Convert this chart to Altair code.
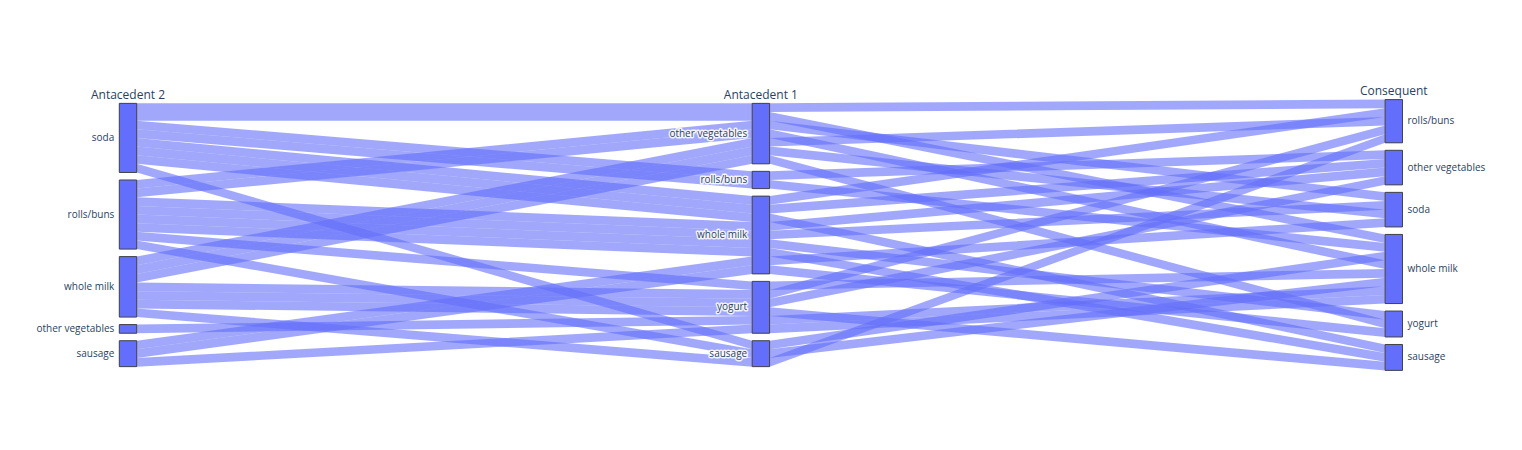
import altair as alt
import pandas as pd

# ---------------- data ----------------
dim_titles = ["Antacedent 2", "Antacedent 1", "Consequent"]

ant2_categories = ["soda", "rolls/buns", "whole milk", "other vegetables", "sausage"]
ant1_categories = ["other vegetables", "rolls/buns", "whole milk", "yogurt", "sausage"]
consequent_categories = ["rolls/buns", "other vegetables", "soda", "whole milk", "yogurt", "sausage"]

antecedent_2 = [
    "soda", "soda", "rolls/buns",
    "soda", "soda", "rolls/buns",
    "soda", "soda", "whole milk",
    "soda", "soda", "sausage",
    "rolls/buns", "rolls/buns", "whole milk",
    "rolls/buns", "rolls/buns", "whole milk",
    "rolls/buns", "rolls/buns", "whole milk",
    "whole milk", "other vegetables", "whole milk",
    "sausage", "sausage", "whole milk",
]
antecedent_1 = [
    "rolls/buns", "other vegetables", "other vegetables",
    "whole milk", "rolls/buns", "whole milk",
    "whole milk", "other vegetables", "other vegetables",
    "whole milk", "sausage", "whole milk",
    "whole milk", "other vegetables", "other vegetables",
    "whole milk", "sausage", "sausage",
    "whole milk", "yogurt", "yogurt",
    "other vegetables", "yogurt", "yogurt",
    "whole milk", "yogurt", "yogurt",
]
consequent = [
    "other vegetables", "rolls/buns", "soda",
    "rolls/buns", "whole milk", "soda",
    "other vegetables", "whole milk", "soda",
    "sausage", "whole milk", "soda",
    "other vegetables", "whole milk", "rolls/buns",
    "sausage", "whole milk", "rolls/buns",
    "yogurt", "whole milk", "rolls/buns",
    "yogurt", "whole milk", "other vegetables",
    "yogurt", "whole milk", "sausage",
]

# ---------------- layout parameters (styling) ----------------
SLOT_PX = 8.64        # pixel height of one rule
GAP_PX = 7.5          # gap between categories
DIM_STEP_PX = 632.9   # horizontal distance between dimensions
BAR_PX = 17.4         # width of category bars
FIRST_DIM_PX = 120    # x of first dimension centre inside plot area
CENTER_Y_PX = 227     # vertical centre of the diagram inside plot area
W, H = 1500, 430

BAND = "#636efa"
TEXT = "#2a3f5f"
FONT = "Open Sans"

gap = GAP_PX / SLOT_PX
hw = BAR_PX / 2 / DIM_STEP_PX

dims = [ant2_categories, ant1_categories, consequent_categories]
cols = [antecedent_2, antecedent_1, consequent]
n = len(consequent)

# category rectangles
cat_rows, cat_tops, title_rows = [], [], []
for d, cats in enumerate(dims):
    counts = [cols[d].count(c) for c in cats]
    total = n + gap * (len(cats) - 1)
    y = -total / 2
    title_rows.append(dict(dim=d, title=dim_titles[d], x=d, y=y - 4.8 / SLOT_PX))
    tops = []
    for c, k in zip(cats, counts):
        tops.append(y)
        cat_rows.append(dict(dim=d, cat=c, x=d - hw, x2=d + hw, y=y, y2=y + k, ymid=y + k / 2))
        y += k + gap
    cat_tops.append(tops)

# paths, ordered like plotly parcats (lexicographic by category index per dimension)
idx = [[dims[d].index(cols[d][i]) for d in range(3)] for i in range(n)]
order = sorted(range(n), key=lambda i: (idx[i], i))
nxt = [list(t) for t in cat_tops]
path_rows = []
for p, i in enumerate(order):
    for d in range(3):
        c = idx[i][d]
        y0 = nxt[d][c]
        nxt[d][c] += 1
        for xx in (d - hw, d + hw):
            path_rows.append(dict(path=p, x=xx, y=y0, y2=y0 + 1))

cats_df = pd.DataFrame(cat_rows)
paths_df = pd.DataFrame(path_rows)
titles_df = pd.DataFrame(title_rows)
left_df = cats_df[cats_df.dim < 2]
right_df = cats_df[cats_df.dim == 2]

x0 = -FIRST_DIM_PX / DIM_STEP_PX
xs = alt.Scale(domain=[x0, x0 + W / DIM_STEP_PX], nice=False, zero=False)
y0 = -CENTER_Y_PX / SLOT_PX
ys = alt.Scale(domain=[y0, y0 + H / SLOT_PX], nice=False, zero=False, reverse=True)

X = lambda f: alt.X(f, type="quantitative", scale=xs, axis=None)
Y = lambda f: alt.Y(f, type="quantitative", scale=ys, axis=None)

bands = alt.Chart(paths_df).mark_area(color=BAND, opacity=0.6, interpolate="linear").encode(
    x=X("x"), y=Y("y"), y2="y2", detail="path:N"
)
bars = alt.Chart(cats_df).mark_rect(fill=BAND, stroke="#444444", strokeWidth=1).encode(
    x=X("x"), x2="x2", y=Y("y"), y2="y2"
)

def labels(df, xfield, align, dx):
    halo = alt.Chart(df).mark_text(
        align=align, baseline="middle", dx=dx, font=FONT, fontSize=10,
        stroke="white", strokeWidth=3, strokeOpacity=0.85, fill="white", strokeJoin="round"
    ).encode(x=X(xfield), y=Y("ymid"), text="cat:N")
    txt = alt.Chart(df).mark_text(
        align=align, baseline="middle", dx=dx, font=FONT, fontSize=10, color=TEXT
    ).encode(x=X(xfield), y=Y("ymid"), text="cat:N")
    return halo + txt

titles = alt.Chart(titles_df).mark_text(
    align="center", baseline="alphabetic", font=FONT, fontSize=12, color=TEXT
).encode(x=X("x"), y=Y("y"), text="title:N")

chart = alt.layer(
    bands, bars, labels(left_df, "x", "right", -5), labels(right_df, "x2", "left", 5), titles
).properties(width=W, height=H, padding=0).configure_view(stroke=None)

chart.save("out.html", embed_options={"renderer": "svg", "actions": False})
